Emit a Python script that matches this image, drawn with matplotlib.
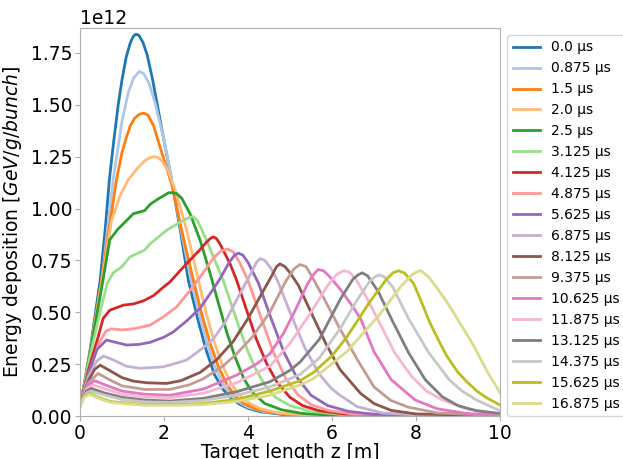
import matplotlib
matplotlib.use("Agg")
import matplotlib.pyplot as plt
import numpy as np

labels = ["0.0 µs", "0.875 µs", "1.5 µs", "2.0 µs", "2.5 µs", "3.125 µs", "4.125 µs",
          "4.875 µs", "5.625 µs", "6.875 µs", "8.125 µs", "9.375 µs", "10.625 µs",
          "11.875 µs", "13.125 µs", "14.375 µs", "15.625 µs", "16.875 µs"]

# (z [m], E [1e12 GeV/g/bunch])
z_t00 = [0, 0.1, 0.25, 0.48, 0.6, 0.70, 0.8, 0.91, 1.0, 1.1, 1.2, 1.27, 1.33, 1.4, 1.5, 1.6, 1.73, 1.95, 2.18, 2.4, 2.58, 2.8, 3.0, 3.2, 3.4, 3.6, 3.8, 4.0, 4.3, 4.8, 6, 10]
e_t00 = [0.05, 0.15, 0.33, 0.654, 0.9, 1.14, 1.32, 1.50, 1.62, 1.73, 1.80, 1.83, 1.84, 1.835, 1.80, 1.74, 1.62, 1.38, 1.14, 0.88, 0.654, 0.47, 0.32, 0.20, 0.13, 0.085, 0.057, 0.037, 0.02, 0.008, 0.003, 0.001]

z_t01 = [0, 0.1, 0.25, 0.5, 0.79, 1.0, 1.15, 1.28, 1.41, 1.52, 1.65, 1.8, 2.0, 2.2, 2.4, 2.62, 2.8, 3.0, 3.2, 3.4, 3.6, 3.8, 4.0, 4.4, 5.0, 6, 10]
e_t01 = [0.05, 0.15, 0.32, 0.62, 1.14, 1.42, 1.56, 1.63, 1.66, 1.65, 1.60, 1.50, 1.33, 1.12, 0.90, 0.68, 0.52, 0.37, 0.245, 0.155, 0.10, 0.065, 0.042, 0.02, 0.008, 0.003, 0.001]

z_t02 = [0, 0.1, 0.25, 0.5, 0.87, 1.0, 1.1, 1.2, 1.3, 1.42, 1.52, 1.62, 1.75, 1.90, 2.18, 2.42, 2.70, 2.9, 3.1, 3.3, 3.5, 3.7, 3.9, 4.2, 4.6, 5.2, 6.5, 10]
e_t02 = [0.05, 0.15, 0.32, 0.64, 1.14, 1.27, 1.34, 1.40, 1.435, 1.455, 1.46, 1.45, 1.40, 1.30, 1.12, 0.895, 0.654, 0.49, 0.35, 0.235, 0.15, 0.095, 0.06, 0.033, 0.016, 0.006, 0.002, 0.001]

z_t03 = [0, 0.1, 0.25, 0.5, 0.75, 0.95, 1.14, 1.35, 1.54, 1.66, 1.77, 1.87, 1.97, 2.10, 2.30, 2.54, 2.82, 3.0, 3.2, 3.4, 3.6, 3.8, 4.0, 4.3, 4.7, 5.3, 6.5, 10]
e_t03 = [0.05, 0.15, 0.32, 0.62, 0.94, 1.06, 1.136, 1.19, 1.23, 1.245, 1.25, 1.245, 1.225, 1.18, 1.07, 0.895, 0.654, 0.50, 0.355, 0.24, 0.155, 0.10, 0.065, 0.035, 0.016, 0.006, 0.002, 0.001]

z_t04 = [0, 0.1, 0.25, 0.5, 0.71, 0.9, 1.1, 1.27, 1.54, 1.67, 1.85, 1.98, 2.1, 2.2, 2.3, 2.42, 2.62, 2.86, 3.10, 3.3, 3.5, 3.7, 3.9, 4.1, 4.4, 4.8, 5.3, 6, 10]
e_t04 = [0.05, 0.15, 0.32, 0.60, 0.85, 0.90, 0.94, 0.975, 0.99, 1.02, 1.045, 1.06, 1.075, 1.077, 1.072, 1.05, 0.975, 0.847, 0.686, 0.54, 0.40, 0.28, 0.18, 0.115, 0.06, 0.03, 0.012, 0.004, 0.001]

z_t05 = [0, 0.1, 0.25, 0.5, 0.65, 0.79, 1.0, 1.19, 1.54, 1.67, 2.06, 2.33, 2.5, 2.62, 2.70, 2.8, 2.98, 3.21, 3.41, 3.6, 3.8, 4.0, 4.2, 4.4, 4.65, 5.0, 5.5, 6.2, 10]
e_t05 = [0.05, 0.15, 0.30, 0.52, 0.64, 0.69, 0.72, 0.767, 0.80, 0.83, 0.895, 0.927, 0.948, 0.958, 0.96, 0.94, 0.863, 0.75, 0.654, 0.54, 0.42, 0.31, 0.22, 0.15, 0.09, 0.05, 0.022, 0.008, 0.001]

z_t06 = [0, 0.2, 0.43, 0.55, 0.71, 1.03, 1.27, 1.51, 1.75, 1.98, 2.14, 2.54, 2.85, 3.0, 3.1, 3.17, 3.25, 3.33, 3.57, 3.73, 3.95, 4.2, 4.45, 4.7, 5.0, 5.3, 5.7, 6.3, 10]
e_t06 = [0.05, 0.22, 0.38, 0.47, 0.51, 0.534, 0.54, 0.555, 0.58, 0.62, 0.646, 0.735, 0.80, 0.835, 0.855, 0.863, 0.855, 0.83, 0.735, 0.654, 0.52, 0.37, 0.25, 0.16, 0.09, 0.05, 0.025, 0.01, 0.001]

z_t07 = [0, 0.2, 0.45, 0.62, 0.75, 1.0, 1.27, 1.67, 2.0, 2.3, 2.6, 2.86, 3.17, 3.35, 3.51, 3.65, 3.8, 4.0, 4.3, 4.6, 4.9, 5.2, 5.5, 5.9, 6.5, 10]
e_t07 = [0.05, 0.20, 0.35, 0.41, 0.42, 0.415, 0.42, 0.438, 0.48, 0.526, 0.60, 0.67, 0.76, 0.795, 0.805, 0.79, 0.74, 0.654, 0.48, 0.31, 0.18, 0.10, 0.055, 0.027, 0.01, 0.001]

z_t08 = [0, 0.2, 0.4, 0.63, 0.85, 1.11, 1.4, 1.67, 2.0, 2.22, 2.55, 2.86, 3.1, 3.33, 3.55, 3.68, 3.77, 3.88, 4.0, 4.25, 4.55, 4.85, 5.15, 5.5, 5.9, 6.4, 7.0, 10]
e_t08 = [0.05, 0.20, 0.32, 0.366, 0.355, 0.342, 0.345, 0.355, 0.38, 0.405, 0.46, 0.52, 0.59, 0.66, 0.74, 0.775, 0.785, 0.775, 0.74, 0.64, 0.47, 0.31, 0.19, 0.10, 0.05, 0.022, 0.008, 0.001]

z_t09 = [0, 0.2, 0.4, 0.56, 0.8, 1.1, 1.43, 1.98, 2.3, 2.54, 2.94, 3.17, 3.45, 3.73, 4.05, 4.2, 4.29, 4.4, 4.55, 4.7, 5.0, 5.35, 5.7, 6.0, 6.19, 6.6, 7.2, 8, 10]
e_t09 = [0.05, 0.19, 0.265, 0.289, 0.27, 0.24, 0.23, 0.237, 0.255, 0.27, 0.33, 0.37, 0.45, 0.56, 0.68, 0.74, 0.759, 0.75, 0.71, 0.654, 0.50, 0.33, 0.20, 0.13, 0.10, 0.045, 0.015, 0.005, 0.001]

z_t10 = [0, 0.2, 0.35, 0.48, 0.7, 1.0, 1.27, 1.6, 2.06, 2.4, 2.86, 3.25, 3.65, 4.0, 4.3, 4.55, 4.68, 4.76, 4.88, 5.0, 5.2, 5.5, 5.85, 6.19, 6.68, 7.0, 7.41, 8, 10]
e_t10 = [0.05, 0.17, 0.225, 0.245, 0.22, 0.185, 0.168, 0.16, 0.157, 0.17, 0.21, 0.27, 0.36, 0.47, 0.58, 0.67, 0.72, 0.733, 0.72, 0.69, 0.63, 0.50, 0.35, 0.224, 0.109, 0.06, 0.027, 0.01, 0.001]

z_t11 = [0, 0.2, 0.43, 0.7, 1.0, 1.54, 2.14, 2.6, 2.94, 3.4, 3.73, 4.1, 4.52, 4.9, 5.1, 5.24, 5.38, 5.5, 5.8, 6.19, 6.6, 7.0, 7.4, 7.81, 8.5, 10]
e_t11 = [0.05, 0.16, 0.205, 0.175, 0.145, 0.128, 0.128, 0.15, 0.18, 0.24, 0.30, 0.38, 0.50, 0.65, 0.71, 0.73, 0.72, 0.68, 0.57, 0.42, 0.273, 0.14, 0.075, 0.043, 0.015, 0.002]

z_t12 = [0, 0.2, 0.35, 0.6, 1.0, 1.54, 2.14, 2.94, 3.73, 4.2, 4.52, 4.85, 5.15, 5.4, 5.55, 5.67, 5.8, 5.95, 6.2, 6.45, 6.68, 7.0, 7.41, 7.98, 8.5, 9.2, 10]
e_t12 = [0.05, 0.15, 0.17, 0.15, 0.12, 0.105, 0.10, 0.13, 0.197, 0.25, 0.30, 0.40, 0.52, 0.63, 0.68, 0.706, 0.70, 0.67, 0.61, 0.54, 0.47, 0.31, 0.175, 0.077, 0.035, 0.012, 0.004]

z_t13 = [0, 0.15, 0.31, 0.6, 1.0, 1.54, 2.14, 2.94, 3.73, 4.52, 5.0, 5.5, 5.9, 6.1, 6.27, 6.4, 6.55, 6.8, 7.08, 7.49, 7.9, 8.25, 8.63, 9.2, 10]
e_t13 = [0.05, 0.13, 0.15, 0.13, 0.105, 0.093, 0.088, 0.11, 0.16, 0.24, 0.35, 0.50, 0.63, 0.68, 0.70, 0.695, 0.665, 0.58, 0.47, 0.306, 0.19, 0.12, 0.077, 0.035, 0.01]

z_t14 = [0, 0.15, 0.27, 0.6, 1.0, 1.54, 2.14, 2.94, 3.73, 4.52, 5.0, 5.24, 5.7, 6.19, 6.5, 6.62, 6.72, 6.85, 7.1, 7.41, 7.82, 8.22, 8.63, 9.0, 9.44, 10]
e_t14 = [0.05, 0.12, 0.133, 0.11, 0.09, 0.077, 0.072, 0.085, 0.117, 0.165, 0.22, 0.26, 0.37, 0.56, 0.66, 0.68, 0.69, 0.675, 0.60, 0.47, 0.306, 0.175, 0.092, 0.05, 0.025, 0.012]

z_t15 = [0, 0.15, 0.25, 0.6, 1.0, 1.54, 2.14, 2.94, 3.73, 4.52, 5.24, 5.7, 6.19, 6.6, 6.9, 7.03, 7.12, 7.25, 7.45, 7.82, 8.30, 8.79, 9.1, 9.44, 10]
e_t15 = [0.05, 0.11, 0.12, 0.10, 0.08, 0.068, 0.065, 0.075, 0.10, 0.14, 0.20, 0.28, 0.42, 0.56, 0.65, 0.672, 0.68, 0.67, 0.62, 0.47, 0.306, 0.175, 0.12, 0.077, 0.025]

z_t16 = [0, 0.1, 0.23, 0.5, 0.75, 1.54, 2.33, 2.94, 3.73, 4.52, 5.24, 5.56, 6.0, 6.35, 6.9, 7.3, 7.45, 7.58, 7.72, 7.94, 8.15, 8.33, 8.55, 8.73, 9.0, 9.21, 9.45, 9.68, 10]
e_t16 = [0.05, 0.095, 0.109, 0.085, 0.069, 0.055, 0.055, 0.06, 0.08, 0.12, 0.17, 0.21, 0.29, 0.38, 0.55, 0.66, 0.69, 0.70, 0.69, 0.64, 0.54, 0.45, 0.36, 0.29, 0.21, 0.165, 0.12, 0.088, 0.053]

z_t17 = [0, 0.1, 0.23, 0.5, 0.75, 1.54, 2.33, 2.94, 3.73, 4.52, 5.24, 5.56, 6.35, 7.14, 7.62, 7.9, 8.02, 8.12, 8.3, 8.49, 8.7, 8.89, 9.1, 9.37, 9.68, 10]
e_t17 = [0.045, 0.09, 0.105, 0.08, 0.065, 0.052, 0.052, 0.055, 0.07, 0.10, 0.15, 0.18, 0.31, 0.49, 0.62, 0.68, 0.695, 0.70, 0.67, 0.62, 0.56, 0.50, 0.43, 0.34, 0.22, 0.112]

zs = [z_t00, z_t01, z_t02, z_t03, z_t04, z_t05, z_t06, z_t07, z_t08, z_t09,
      z_t10, z_t11, z_t12, z_t13, z_t14, z_t15, z_t16, z_t17]
es = [e_t00, e_t01, e_t02, e_t03, e_t04, e_t05, e_t06, e_t07, e_t08, e_t09,
      e_t10, e_t11, e_t12, e_t13, e_t14, e_t15, e_t16, e_t17]

colors = plt.get_cmap("tab20").colors

fig = plt.figure(figsize=(6.23, 4.59), dpi=100)
ax = fig.add_axes([80/623, 43/459, 420/623, 388/459])
for i, (z, e, lab) in enumerate(zip(zs, es, labels)):
    ax.plot(z, np.array(e) * 1e12, color=colors[i], lw=2, label=lab)

ax.set_xlim(0, 10)
ax.set_ylim(0, 1.87e12)
ax.set_yticks([0, 0.25e12, 0.5e12, 0.75e12, 1.0e12, 1.25e12, 1.5e12, 1.75e12])
ax.set_xticks([0, 2, 4, 6, 8, 10])
ax.tick_params(labelsize=13.5, color="#b0b0b0", pad=2)
ax.yaxis.get_offset_text().set_fontsize(13.5)
for s in ax.spines.values():
    s.set_color("#b0b0b0")
ax.set_xlabel("Target length z [m]", fontsize=13.5, labelpad=0)
ax.set_ylabel("Energy deposition $[GeV/g/bunch]$", fontsize=13.5, labelpad=5)
ax.legend(loc="upper left", bbox_to_anchor=(1.0, 1.0), fontsize=10)

fig.savefig("out.png", dpi=100)
